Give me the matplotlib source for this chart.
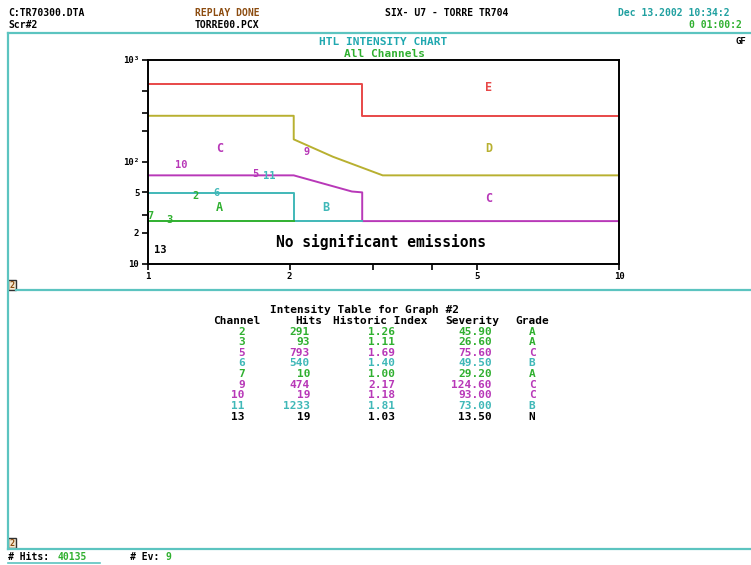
import matplotlib.pyplot as plt
from matplotlib.lines import Line2D
from matplotlib.patches import Rectangle

# grade boundary lines (Historic Index vs Severity)
e_x = [1, 2.85, 2.85, 10]
e_y = [577, 577, 283, 283]
d_x = [1, 2.04, 2.04, 2.47, 3.15, 10]
d_y = [283, 283, 166, 112, 73.5, 73.5]
c_x = [1, 2.04, 2.71, 2.85, 2.85, 10]
c_y = [73.5, 73.5, 51, 50, 26.1, 26.1]
b_x = [1, 2.04, 2.04, 2.85]
b_y = [48.9, 48.9, 26.1, 26.1]
a_x = [1, 2.04]
a_y = [26.1, 26.1]

# table data
channels = [2, 3, 5, 6, 7, 9, 10, 11, 13]
hits = [291, 93, 793, 540, 10, 474, 19, 1233, 19]
hist_index = [1.26, 1.11, 1.69, 1.40, 1.00, 2.17, 1.18, 1.81, 1.03]
severity = [45.90, 26.60, 75.60, 49.50, 29.20, 124.60, 93.00, 73.00, 13.50]
grades = ['A', 'A', 'C', 'B', 'A', 'C', 'C', 'B', 'N']

# region letters
region_names = ['E', 'D', 'C', 'C', 'A', 'B']
region_x = [5.29, 5.29, 5.29, 1.42, 1.42, 2.39]
region_y = [531, 136, 44, 136, 35.9, 35.9]

RED = '#e84848'
OLIVE = '#b8b030'
MAG = '#b838b8'
CYAN = '#40b8b8'
GREEN = '#30b030'
TEAL = '#5cc4c0'
grade_col = {'A': GREEN, 'B': CYAN, 'C': MAG, 'D': OLIVE, 'E': RED, 'N': 'black'}

W, H = 751, 565
MONO = 'DejaVu Sans Mono'
fig = plt.figure(figsize=(W / 100, H / 100), dpi=100)


def put(x, y, s, color='black', size=7, weight='bold', **kw):
    fig.text(x / W, 1 - y / H, s, color=color, family=MONO, fontsize=size,
             fontweight=weight, va='center', **kw)


def hline(y, x0, x1, color=TEAL, lw=1.6):
    fig.add_artist(Line2D([x0 / W, x1 / W], [1 - y / H, 1 - y / H],
                          color=color, lw=lw))


def vline(x, y0, y1, color=TEAL, lw=1.6):
    fig.add_artist(Line2D([x / W, x / W], [1 - y0 / H, 1 - y1 / H],
                          color=color, lw=lw))


# chart
ax = fig.add_axes([147.7 / W, 1 - 263.5 / H, (619.3 - 147.7) / W, (263.5 - 60) / H])
ax.set_xscale('log')
ax.set_yscale('log')
ax.set_xlim(1, 10)
ax.set_ylim(10, 1000)
ax.plot(e_x, e_y, color=RED, lw=1.4)
ax.plot(d_x, d_y, color=OLIVE, lw=1.4)
ax.plot(c_x, c_y, color=MAG, lw=1.4)
ax.plot(b_x, b_y, color=CYAN, lw=1.4)
ax.plot(a_x, a_y, color=GREEN, lw=1.4)

for ch, hx, sv, g in zip(channels, hist_index, severity, grades):
    ax.text(hx, sv, str(ch), color=grade_col[g], family=MONO, fontsize=7.5,
            fontweight='bold', ha='left' if hx < 1.05 else 'center', va='center')

for name, rx, ry in zip(region_names, region_x, region_y):
    ax.text(rx, ry, name, color=grade_col[name], family=MONO, fontsize=8.5,
            fontweight='bold', ha='center', va='center')

ax.text(3.12, 16.2, 'No significant emissions', family=MONO, fontsize=10.5,
        fontweight='bold', ha='center', va='center')

ax.minorticks_off()
ax.set_xticks([1, 2, 3, 4, 5, 10])
ax.set_xticklabels(['1', '2', '', '', '5', '10'])
ax.set_yticks([10, 20, 30, 50, 100, 200, 300, 500, 1000])
ax.set_yticklabels(['10', '2', '', '5', '10²', '', '', '', '10³'])
ax.tick_params(length=4, width=1.2, labelsize=6.5, pad=2)
for lab in ax.get_xticklabels() + ax.get_yticklabels():
    lab.set_family(MONO)
    lab.set_fontweight('bold')
for s in ax.spines.values():
    s.set_linewidth(1.4)

# header
put(8, 13, 'C:TR70300.DTA')
put(8, 25, 'Scr#2')
put(195, 13, 'REPLAY DONE', color='#8c4c10')
put(195, 25, 'TORRE00.PCX')
put(385, 13, 'SIX- U7 - TORRE TR704')
put(618, 13, 'Dec 13.2002 10:34:2', color='#20a0a0')
put(689, 25, '0 01:00:2', color=GREEN)
put(736, 42, 'GF', size=6.5)
put(383, 42, 'HTL INTENSITY CHART', color='#20a8b0', size=8, ha='center')
put(384, 54, 'All Channels', color=GREEN, size=8, ha='center')

# frame
hline(33, 8, W)
vline(8, 33, 549)
hline(290, 16, W)
hline(549, 8, W)
hline(563, 8, 100, lw=1.2)
for yb in (280, 538):
    fig.add_artist(Rectangle((7.5 / W, 1 - (yb + 10) / H), 8 / W, 10 / H,
                             facecolor='#f4e8d0', edgecolor='#303030', lw=1))
    put(11.5, yb + 5, '2', color='#8c4c10', size=6, ha='center')

# table
put(364, 310, 'Intensity Table for Graph #2', size=8, ha='center')
for label, cx in [('Channel', 237), ('Hits', 308.5), ('Historic Index', 380.5),
                  ('Severity', 472), ('Grade', 532)]:
    put(cx, 321, label, size=8, ha='center')
for i, (ch, ht, hx, sv, g) in enumerate(zip(channels, hits, hist_index, severity, grades)):
    y = 331.7 + i * 10.6
    col = grade_col[g]
    put(245, y, str(ch), color=col, size=8, ha='right')
    put(310, y, str(ht), color=col, size=8, ha='right')
    put(395, y, f'{hx:.2f}', color=col, size=8, ha='right')
    put(492, y, f'{sv:.2f}', color=col, size=8, ha='right')
    put(532, y, g, color=col, size=8, ha='center')

# footer
put(8, 557, '# Hits:')
put(58, 557, '40135', color=GREEN)
put(130, 557, '# Ev:')
put(166, 557, '9', color=GREEN)

fig.savefig('out.png', dpi=100)
